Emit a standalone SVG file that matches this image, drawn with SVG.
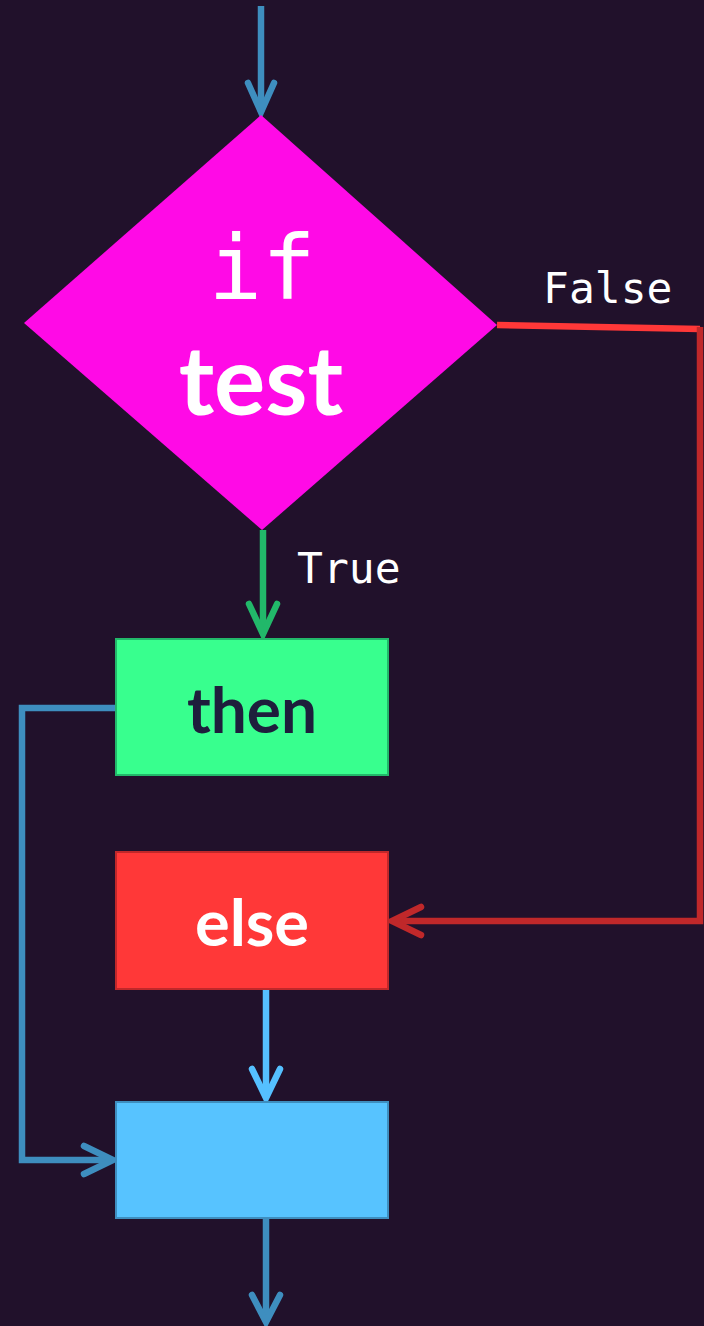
<svg xmlns="http://www.w3.org/2000/svg" width="704" height="1326" viewBox="0 0 704 1326">
<defs>
<style>
.c{fill:none;stroke-width:6.5}
.ah{fill:none;stroke-width:6.5;stroke-linecap:round;stroke-linejoin:miter}
.mono{font-family:"DejaVu Sans Mono","Liberation Mono",monospace}
.sans{font-family:Lato,"Noto Sans",sans-serif;font-weight:bold}
</style>
</defs>
<rect width="704" height="1326" fill="#21112B"/>
<g id="connectors">
<line class="c" x1="261" y1="6" x2="261" y2="112" stroke="#3E8EBF"/>
<polyline class="ah" points="248,83 261,112 274,83" stroke="#3E8EBF"/>
<polyline class="c" points="497,325 700,329" stroke="#FF3838"/>
<polyline class="c" points="700,327 700,921 394,921" stroke="#C0282A"/>
<polyline class="ah" points="421,907 392,921 421,935" stroke="#C0282A"/>
<line class="c" x1="263" y1="530" x2="263" y2="634" stroke="#22B86A"/>
<polyline class="ah" points="249,604 263,634 277,604" stroke="#22B86A"/>
<polyline class="c" points="118,708 22,708 22,1160 110,1160" stroke="#3E8EBF"/>
<polyline class="ah" points="84,1146 113,1160 84,1174" stroke="#3E8EBF"/>
<line class="c" x1="266" y1="990" x2="266" y2="1098" stroke="#55C0FF"/>
<polyline class="ah" points="252,1069 266,1098 280,1069" stroke="#55C0FF"/>
<line class="c" x1="266" y1="1218" x2="266" y2="1322" stroke="#3E8EBF"/>
<polyline class="ah" points="252,1295 266,1322 280,1295" stroke="#3E8EBF"/>
</g>
<g id="if-test">
<polygon points="261,115 497,325 262,530 24,323" fill="#FF0AE6"/>
<text x="262" y="299" class="mono" font-size="89" fill="#FFFFFF" text-anchor="middle">if</text>
<text x="261" y="415" class="sans" font-size="96" fill="#FFFFFF" text-anchor="middle">test</text>
</g>
<text x="543" y="303" class="mono" font-size="43" fill="#FFFFFF">False</text>
<text x="297" y="583" class="mono" font-size="43" fill="#FFFFFF">True</text>
<g id="then">
<rect x="116" y="639" width="272" height="136" fill="#38FF8E" stroke="#22B86A" stroke-width="2"/>
<text x="252" y="733" class="sans" font-size="64" fill="#1E1E3C" text-anchor="middle">then</text>
</g>
<g id="else">
<rect x="116" y="852" width="272" height="137" fill="#FF3838" stroke="#C0282A" stroke-width="2"/>
<text x="252" y="946" class="sans" font-size="65" fill="#FFFFFF" text-anchor="middle">else</text>
</g>
<g id="end">
<rect x="116" y="1102" width="272" height="116" fill="#57C3FF" stroke="#3E8EBF" stroke-width="2"/>
</g>
</svg>
